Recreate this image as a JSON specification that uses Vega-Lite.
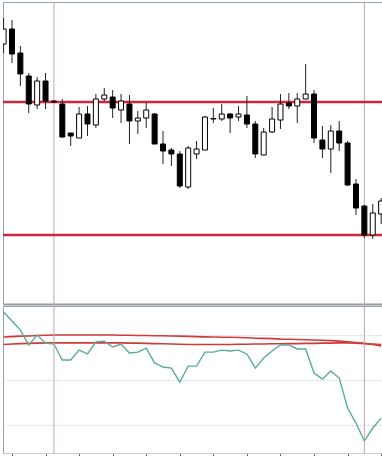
{
  "$schema": "https://vega.github.io/schema/vega-lite/v6.json",
  "padding": {"left": 1, "top": 1, "right": 1, "bottom": 0},
  "background": "white",
  "spacing": 0,
  "config": {
    "view": {"stroke": "#8da2bf", "strokeWidth": 1},
    "concat": {"spacing": 0},
    "axis": {"minExtent": 0, "maxExtent": 0}
  },
  "datasets": {
    "candles": [
      {"idx":0,"open":357,"high":383,"low":348,"close":372,"osc":80.2,"ma1":69.1,"ma2":65.8},
      {"idx":1,"open":372,"high":381,"low":338,"close":347,"osc":76.2,"ma1":69.3,"ma2":66.0},
      {"idx":2,"open":348,"high":355,"low":315,"close":327,"osc":72.2,"ma1":69.5,"ma2":66.2},
      {"idx":3,"open":325,"high":328,"low":288,"close":297,"osc":65.6,"ma1":69.6,"ma2":66.3},
      {"idx":4,"open":296,"high":324,"low":292,"close":320,"osc":70.0,"ma1":69.8,"ma2":66.4},
      {"idx":5,"open":320,"high":328,"low":292,"close":300,"osc":66.4,"ma1":69.9,"ma2":66.5},
      {"idx":6,"open":300,"high":301,"low":298,"close":299,"osc":66.0,"ma1":70.0,"ma2":66.5},
      {"idx":7,"open":297,"high":302,"low":263,"close":264,"osc":58.9,"ma1":70.0,"ma2":66.5},
      {"idx":8,"open":268,"high":268,"low":255,"close":265,"osc":58.9,"ma1":70.0,"ma2":66.5},
      {"idx":9,"open":263,"high":294,"low":263,"close":287,"osc":63.3,"ma1":70.0,"ma2":66.5},
      {"idx":10,"open":287,"high":295,"low":265,"close":277,"osc":61.6,"ma1":70.0,"ma2":66.5},
      {"idx":11,"open":276,"high":307,"low":273,"close":302,"osc":66.9,"ma1":70.0,"ma2":66.5},
      {"idx":12,"open":302,"high":313,"low":300,"close":306,"osc":67.3,"ma1":70.0,"ma2":66.5},
      {"idx":13,"open":304,"high":311,"low":283,"close":293,"osc":64.7,"ma1":70.0,"ma2":66.5},
      {"idx":14,"open":291,"high":307,"low":278,"close":300,"osc":66.0,"ma1":69.9,"ma2":66.5},
      {"idx":15,"open":297,"high":306,"low":257,"close":280,"osc":62.0,"ma1":69.9,"ma2":66.4},
      {"idx":16,"open":280,"high":290,"low":267,"close":283,"osc":62.4,"ma1":69.8,"ma2":66.4},
      {"idx":17,"open":283,"high":298,"low":273,"close":291,"osc":64.2,"ma1":69.8,"ma2":66.3},
      {"idx":18,"open":287,"high":288,"low":257,"close":257,"osc":57.6,"ma1":69.7,"ma2":66.2},
      {"idx":19,"open":257,"high":270,"low":237,"close":250,"osc":55.8,"ma1":69.7,"ma2":66.1},
      {"idx":20,"open":251,"high":253,"low":235,"close":247,"osc":55.3,"ma1":69.6,"ma2":66.0},
      {"idx":21,"open":247,"high":250,"low":213,"close":215,"osc":49.1,"ma1":69.5,"ma2":65.9},
      {"idx":22,"open":214,"high":255,"low":212,"close":253,"osc":56.2,"ma1":69.4,"ma2":65.8},
      {"idx":23,"open":247,"high":260,"low":242,"close":252,"osc":56.2,"ma1":69.3,"ma2":65.8},
      {"idx":24,"open":251,"high":285,"low":251,"close":284,"osc":62.4,"ma1":69.2,"ma2":65.8},
      {"idx":25,"open":282,"high":293,"low":278,"close":282.5,"osc":62.4,"ma1":69.1,"ma2":65.8},
      {"idx":26,"open":282,"high":297,"low":280,"close":287,"osc":63.3,"ma1":69.0,"ma2":65.8},
      {"idx":27,"open":287,"high":288,"low":268,"close":283,"osc":62.9,"ma1":69.0,"ma2":65.8},
      {"idx":28,"open":284,"high":295,"low":280,"close":287,"osc":63.3,"ma1":68.9,"ma2":65.9},
      {"idx":29,"open":286,"high":305,"low":273,"close":277,"osc":61.6,"ma1":68.8,"ma2":65.9},
      {"idx":30,"open":277,"high":280,"low":243,"close":247,"osc":55.3,"ma1":68.6,"ma2":66.0},
      {"idx":31,"open":246,"high":273,"low":246,"close":269,"osc":59.8,"ma1":68.5,"ma2":66.0},
      {"idx":32,"open":269,"high":294,"low":268,"close":282,"osc":62.9,"ma1":68.4,"ma2":66.1},
      {"idx":33,"open":281,"high":307,"low":272,"close":297,"osc":65.6,"ma1":68.2,"ma2":66.1},
      {"idx":34,"open":298,"high":308,"low":292,"close":295,"osc":65.6,"ma1":68.1,"ma2":66.2},
      {"idx":35,"open":295,"high":308,"low":278,"close":302,"osc":63.8,"ma1":68.0,"ma2":66.2},
      {"idx":36,"open":302,"high":337,"low":302,"close":307,"osc":63.8,"ma1":67.9,"ma2":66.3},
      {"idx":37,"open":307,"high":311,"low":258,"close":263,"osc":53.1,"ma1":67.8,"ma2":66.3},
      {"idx":38,"open":261,"high":275,"low":243,"close":252,"osc":50.4,"ma1":67.7,"ma2":66.4},
      {"idx":39,"open":252,"high":276,"low":228,"close":270,"osc":54.0,"ma1":67.5,"ma2":66.4},
      {"idx":40,"open":270,"high":280,"low":250,"close":258,"osc":50.9,"ma1":67.3,"ma2":66.5},
      {"idx":41,"open":258,"high":260,"low":215,"close":216,"osc":37.6,"ma1":67.0,"ma2":66.5},
      {"idx":42,"open":217,"high":222,"low":186,"close":193,"osc":30.9,"ma1":66.7,"ma2":66.4},
      {"idx":43,"open":195,"high":196,"low":163,"close":166,"osc":22.9,"ma1":66.3,"ma2":66.2},
      {"idx":44,"open":166,"high":197,"low":162,"close":188,"osc":28.7,"ma1":65.8,"ma2":66.0},
      {"idx":45,"open":187,"high":203,"low":177,"close":200,"osc":33.1,"ma1":65.2,"ma2":65.8}
    ],
    "levels": [{"price": 299}, {"price": 166}],
    "markers": [{"idx": 6}, {"idx": 43}]
  },
  "vconcat": [
    {
      "width": 380,
      "height": 302,
      "layer": [
        {
          "data": {"name": "markers"},
          "mark": {"type": "rule", "color": "#c9a3ad", "strokeWidth": 1},
          "encoding": {
            "x": {"field": "idx", "type": "quantitative", "scale": {"domain": [-0.07, 45.22], "nice": false, "zero": false, "padding": 0},
                  "axis": {"orient": "bottom", "domain": true, "domainColor": "#9a9a9a", "domainWidth": 2, "ticks": false, "labels": false, "grid": false, "title": null}}
          }
        },
        {
          "data": {"name": "levels"},
          "mark": {"type": "rule", "color": "#d0283a", "strokeWidth": 2.5},
          "encoding": {
            "y": {"field": "price", "type": "quantitative", "scale": {"domain": [97, 399], "nice": false, "zero": false, "padding": 0}, "axis": null}
          }
        },
        {
          "data": {"name": "candles"},
          "mark": {"type": "rule", "color": "#222222", "strokeWidth": 1, "clip": true},
          "encoding": {
            "x": {"field": "idx", "type": "quantitative", "scale": {"domain": [-0.07, 45.22], "nice": false, "zero": false, "padding": 0},
                  "axis": {"orient": "bottom", "domain": true, "domainColor": "#9a9a9a", "domainWidth": 2, "ticks": false, "labels": false, "grid": false, "title": null}},
            "y": {"field": "low", "type": "quantitative", "scale": {"domain": [97, 399], "nice": false, "zero": false, "padding": 0}, "axis": null},
            "y2": {"field": "high"}
          }
        },
        {
          "data": {"name": "candles"},
          "mark": {"type": "bar", "size": 5, "stroke": "#000000", "strokeWidth": 1, "clip": true},
          "encoding": {
            "x": {"field": "idx", "type": "quantitative", "scale": {"domain": [-0.07, 45.22], "nice": false, "zero": false, "padding": 0},
                  "axis": {"orient": "bottom", "domain": true, "domainColor": "#9a9a9a", "domainWidth": 2, "ticks": false, "labels": false, "grid": false, "title": null}},
            "y": {"field": "open", "type": "quantitative", "scale": {"domain": [97, 399], "nice": false, "zero": false, "padding": 0}, "axis": null},
            "y2": {"field": "close"},
            "fill": {"condition": {"test": "datum.close > datum.open", "value": "#ffffff"}, "value": "#000000"}
          }
        }
      ]
    },
    {
      "width": 380,
      "height": 147,
      "layer": [
        {
          "data": {"name": "candles"},
          "mark": {"type": "line", "color": "#d03a3a", "strokeWidth": 1.6, "clip": true},
          "encoding": {
            "x": {"field": "idx", "type": "quantitative", "scale": {"domain": [-0.07, 45.22], "nice": false, "zero": false, "padding": 0},
                  "axis": {"values": [1,5,9,13,17,21,25,29,33,37,41,45], "labels": false, "ticks": true, "tickSize": 4, "tickColor": "#666666", "domain": true, "domainColor": "#cccccc", "grid": false, "title": null}},
            "y": {"field": "ma1", "type": "quantitative", "scale": {"domain": [17.6, 82.9], "nice": false, "zero": false, "padding": 0},
                  "axis": {"values": [30, 50, 70], "grid": true, "gridColor": "#d4d4d4", "gridDash": [2, 2], "labels": false, "ticks": false, "domain": false, "title": null}}
          }
        },
        {
          "data": {"name": "candles"},
          "mark": {"type": "line", "color": "#d03a3a", "strokeWidth": 1.6, "clip": true},
          "encoding": {
            "x": {"field": "idx", "type": "quantitative", "scale": {"domain": [-0.07, 45.22], "nice": false, "zero": false, "padding": 0},
                  "axis": {"values": [1,5,9,13,17,21,25,29,33,37,41,45], "labels": false, "ticks": true, "tickSize": 4, "tickColor": "#666666", "domain": true, "domainColor": "#cccccc", "grid": false, "title": null}},
            "y": {"field": "ma2", "type": "quantitative", "scale": {"domain": [17.6, 82.9], "nice": false, "zero": false, "padding": 0},
                  "axis": {"values": [30, 50, 70], "grid": true, "gridColor": "#d4d4d4", "gridDash": [2, 2], "labels": false, "ticks": false, "domain": false, "title": null}}
          }
        },
        {
          "data": {"name": "candles"},
          "mark": {"type": "line", "color": "#5aab9e", "strokeWidth": 1.4, "clip": true},
          "encoding": {
            "x": {"field": "idx", "type": "quantitative", "scale": {"domain": [-0.07, 45.22], "nice": false, "zero": false, "padding": 0},
                  "axis": {"values": [1,5,9,13,17,21,25,29,33,37,41,45], "labels": false, "ticks": true, "tickSize": 4, "tickColor": "#666666", "domain": true, "domainColor": "#cccccc", "grid": false, "title": null}},
            "y": {"field": "osc", "type": "quantitative", "scale": {"domain": [17.6, 82.9], "nice": false, "zero": false, "padding": 0},
                  "axis": {"values": [30, 50, 70], "grid": true, "gridColor": "#d4d4d4", "gridDash": [2, 2], "labels": false, "ticks": false, "domain": false, "title": null}}
          }
        },
        {
          "data": {"name": "markers"},
          "mark": {"type": "rule", "color": "#c9a3ad", "strokeWidth": 1},
          "encoding": {
            "x": {"field": "idx", "type": "quantitative", "scale": {"domain": [-0.07, 45.22], "nice": false, "zero": false, "padding": 0},
                  "axis": {"values": [1,5,9,13,17,21,25,29,33,37,41,45], "labels": false, "ticks": true, "tickSize": 4, "tickColor": "#666666", "domain": true, "domainColor": "#cccccc", "grid": false, "title": null}}
          }
        }
      ]
    }
  ]
}
